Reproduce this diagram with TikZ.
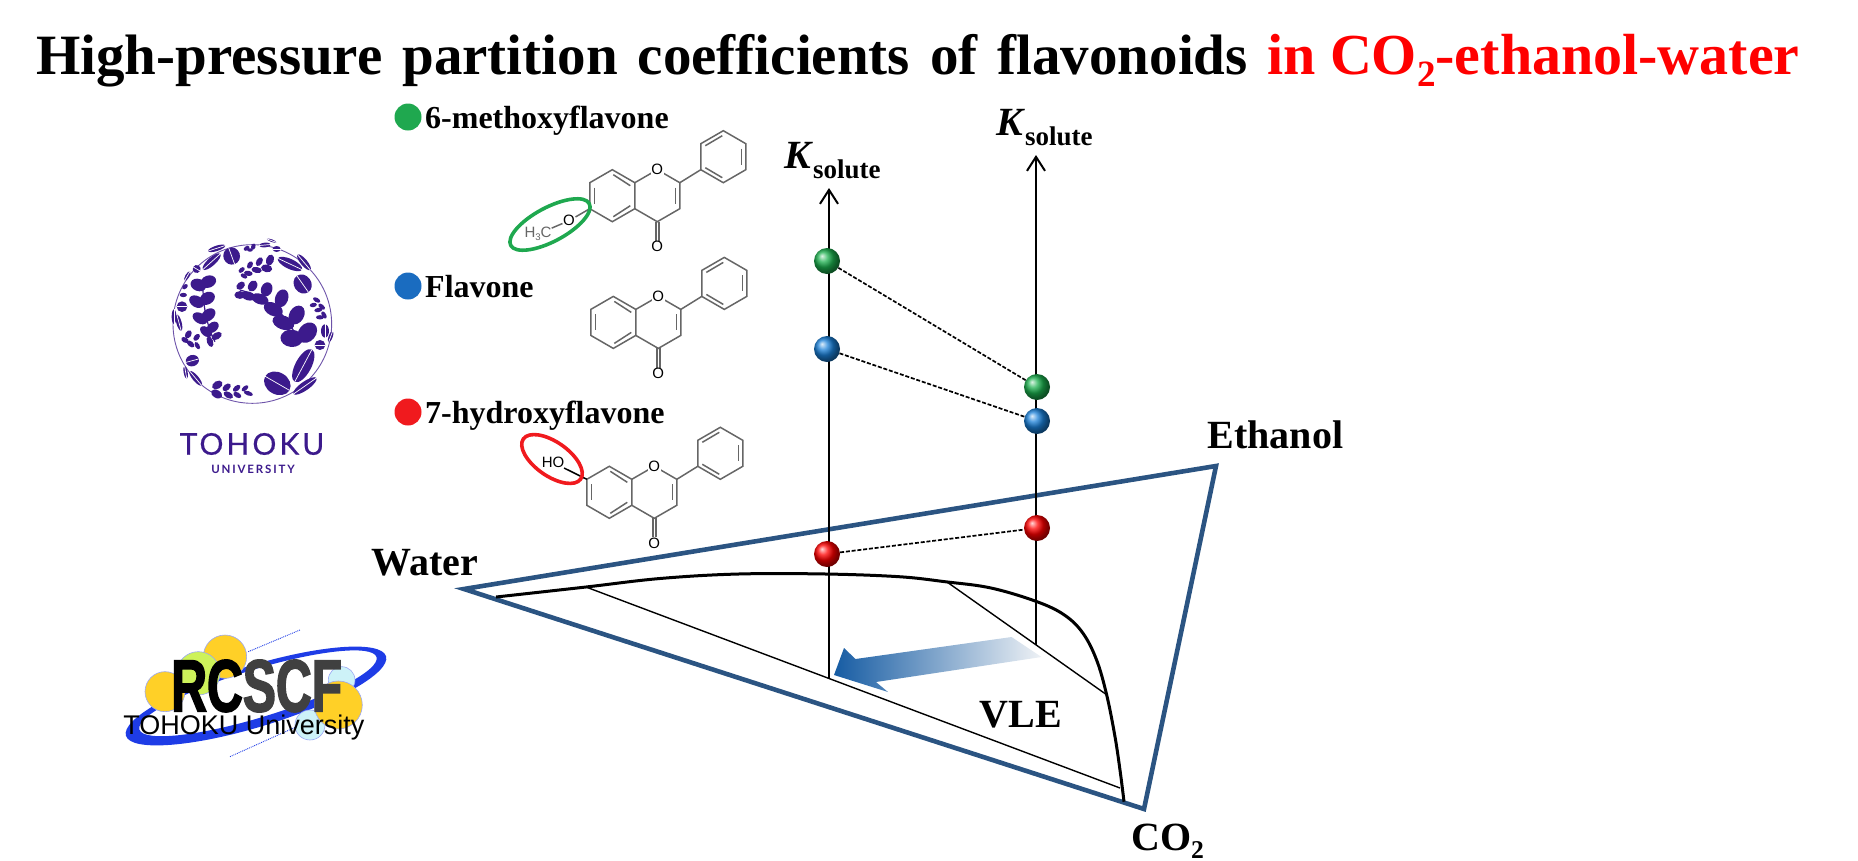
\documentclass[tikz,border=0pt]{standalone}
\usepackage{graphicx}
\usepackage{fontspec}
\usepackage{tikz}
\usetikzlibrary{arrows.meta}
\setmainfont{Liberation Serif}
\newfontfamily\molfont{Liberation Sans}
\newfontfamily\lofont[LetterSpace=16]{Lato}
\newfontfamily\lobig[LetterSpace=10,FakeBold=.4]{Lato}
\newfontfamily\rcfont[FakeStretch=0.67,FakeBold=2]{Liberation Sans}
\definecolor{triblue}{HTML}{2B5482}
\definecolor{tohoku}{HTML}{3C1A8C}
\definecolor{molgray}{HTML}{666666}
\definecolor{dotgreen}{HTML}{1FA84F}
\definecolor{dotblue}{HTML}{1A6CC0}
\definecolor{dotred}{HTML}{F01A1E}
\definecolor{ballgreen}{HTML}{1CB04E}
\definecolor{ballblue}{HTML}{1A80D8}
\definecolor{ringblue}{HTML}{1E3CE6}
\definecolor{rcgold}{HTML}{FFD027}
\definecolor{rclime}{HTML}{CDF25A}
\definecolor{rccyan}{HTML}{CDF2F8}
\tikzset{
	txt/.style={anchor=base west,inner sep=0pt,font=\bfseries\fontsize{40}{44}\selectfont},
	legend/.style={anchor=base west,inner sep=0pt,font=\bfseries\fontsize{32}{36}\selectfont},
	bond/.style={draw=molgray,line width=1.5pt},
	atom/.style={inner sep=.5pt,fill=white,text=#1,font=\molfont\fontsize{15}{15}\selectfont},
	dot/.style={circle,fill=#1,inner sep=0pt,minimum size=27pt},
	ball/.style={circle,shading=ball,ball color=#1,inner sep=0pt,minimum size=26pt},
	tie/.style={draw=black,line width=1.4pt},
	link/.style={draw=black,line width=1.7pt,dash pattern=on 4pt off 1.8pt},
	axis/.style={draw=black,line width=2pt,-{Straight Barb[length=14pt,width=18pt]}},
	rcdisc/.style={draw=ringblue!45,line width=.6pt,fill=#1},
}
\newcommand{\subtxt}[1]{\raisebox{-.22em}{\scalebox{.64}{#1}}}
\newcommand{\ksolute}[1]{\textit{K}\raisebox{-10pt}{\fontsize{27}{27}\selectfont solute}}
\newcommand{\flavone}[3]{
	\begin{scope}[shift={(#2,#3)}]
		\draw[bond] (0,-26) -- (22.5,-13) -- (22.5,13) -- (0,26) -- (-22.5,13) -- (-22.5,-13) -- cycle;
		\draw[bond] (22.5,-13) -- (45,-26) -- (67.5,-13) -- (67.5,13) -- (45,26) -- (22.5,13);
		\draw[bond] (111,-65) -- (133.5,-52) -- (133.5,-26) -- (111,-13) -- (88.5,-26) -- (88.5,-52) -- cycle;
		\draw[bond] (67.5,-13) -- (88.5,-26);
		\foreach \xa/\ya/\xb/\yb in {-18/-8/-18/8,1/-21/18/-10,1/21/18/10,63/-8/63/8,129/-47/129/-31,93/-50/110/-60,93/-28/110/-18}
			\draw[bond] (\xa,\ya) -- (\xb,\yb);
		\draw[bond] (43.5,26) -- (43.5,46);
		\draw[bond] (46.5,26) -- (46.5,46);
		\node[atom=black] (#1r) at (45,-26) {O};
		\node[atom=black] (#1k) at (45,51) {O};
	\end{scope}
}
\begin{document}
\begin{tikzpicture}[x=1pt,y=-1pt]
	\useasboundingbox (0,0) rectangle (1858,860);
	\node[anchor=base west,inner sep=0pt,font=\bfseries\fontsize{57}{60}\selectfont] (title) at (36,74) {\spaceskip=20pt High-pressure partition coefficients of flavonoids \textcolor{red}{\fontsize{58}{60}\selectfont\spaceskip=14pt in CO\subtxt{2}-ethanol-water}};
	\begin{scope}[shift={(100,200)},x=.3333pt,y=-.3333pt]
		\draw[tohoku!75,line width=.9pt] (457,372) circle [radius=238];
		\foreach \x/\y/\a/\b/\r in {532/550/42/33/-30,610/497/55/24/62,615/558/42/13/35,570/192/40/15/-25,612/187/30/10/-50,608/252/30/26/-55,395/168/26/25/-70,335/185/35/12/42,350/145/27/8/18,290/207/12/12/-30,262/228/16/6/60,246/320/16/16/0,222/350/22/7/90,237/368/25/8/-75,277/482/20/17/15,257/517/20/6/-80,287/535/28/9/-50,675/393/20/12/90,660/435/16/15/0,692/410/18/6/70,495/135/18/7/5,530/147/12/9/0,515/122/15/4/-20}
		{
			\fill[tohoku,shift={(\x,\y)},rotate=\r] (0,0) ellipse [x radius=\a,y radius=\b];
			\draw[white,line width=.7pt,shift={(\x,\y)},rotate=\r] (-\a,0) -- (\a,0);
		}
		\draw[tohoku,line width=1.2pt] (420,270) .. controls (500,290) and (570,350) .. (595,425);
		\draw[tohoku,line width=1.2pt] (310,240) .. controls (305,300) and (320,380) .. (345,425);
		\foreach \x/\y/\a/\b/\r in {622/398/28/20/50,575/415/28/20/-5,590/345/25/17/60,550/368/28/16/-20,545/295/23/15/70,520/328/25/15/-25,500/268/18/13/70,480/297/22/12/-20,458/258/15/10/60,445/288/18/10/-15,422/257/12/8/40,420/285/14/9/0,325/245/20/14/20,295/255/20/14/-20,322/295/20/14/30,290/305/20/13/-30,325/345/20/13/40,300/355/20/12/-30,338/382/17/11/40,318/395/17/10/-40,350/408/14/8/30,330/425/14/7/-70,510/180/14/9/70,500/205/14/9/-10,478/185/12/7/60,470/210/13/7/-10,450/195/10/6/60,445/220/11/6/-10,425/210/9/5/40,432/228/9/5/-30,352/555/14/9/30,350/582/15/9/-30,380/562/12/7/40,385/585/13/7/-30,410/565/11/6/40,412/585/11/6/-30,435/565/10/5/40,445/580/12/5/-20,650/300/10/5/-30,640/315/9/5/10,665/320/10/5/-40,655/330/10/5/10,672/345/10/5/-60,660/352/10/5/0,265/403/11/7/60,255/420/10/6/-30,290/412/10/6/50,272/432/11/6/-40,292/437/10/5/-60,255/260/8/5/40,250/285/9/5/0,440/145/8/5/30,460/140/8/5/70,450/150/7/4/0}
			\fill[tohoku,shift={(\x,\y)},rotate=\r] (0,0) ellipse [x radius=1.2*\a,y radius=1.3*\b];
	\end{scope}
	\node[inner sep=0pt,text=tohoku,font=\lobig\fontsize{30}{30}\selectfont] (tohokutxt) at (252,444) {TOHOKU};
	\node[inner sep=0pt,text=tohoku,font=\lofont\bfseries\fontsize{11.5}{12}\selectfont] (univtxt) at (253,469) {UNIVERSITY};
	\begin{scope}[shift={(100,610)},x=.3333pt,y=-.3333pt]
		\fill[ringblue,even odd rule,rotate around={17:(468,258)}] (468,258) ellipse [x radius=408,y radius=92] (476,252) ellipse [x radius=372,y radius=72];
		\draw[rcdisc=rcgold] (195,245) circle [radius=60];
		\draw[rcdisc=rcgold] (375,140) circle [radius=65];
		\draw[rcdisc=rclime] (295,190) circle [radius=65];
		\draw[rcdisc=rccyan] (725,210) circle [radius=40];
		\draw[rcdisc=rccyan] (630,345) circle [radius=45];
		\draw[rcdisc=rcgold] (715,285) circle [radius=72];
		\draw[ringblue,line width=.9pt,densely dotted] (445,125) -- (600,60);
		\draw[ringblue,line width=.9pt,densely dotted] (390,440) -- (590,350);
		\node[inner sep=0pt,font=\rcfont\bfseries\fontsize{74}{74}\selectfont] (rcscf) at (470,228) {RC\textcolor{black!75}{SCF}};
		\node[inner sep=0pt,font=\molfont\fontsize{27}{27}\selectfont] (rcuniv) at (432,352) {TOHOKU University};
	\end{scope}
	\node[dot=dotgreen] (legg) at (408,117) {};
	\node[dot=dotblue] (legb) at (408,286) {};
	\node[dot=dotred] (legr) at (408,412) {};
	\node[legend] (namea) at (425,128) {6-methoxyflavone};
	\node[legend] (nameb) at (425,297) {Flavone};
	\node[legend] (namec) at (425,423) {7-hydroxyflavone};
	\flavone{m}{612.3}{195.7}
	\flavone{f}{613.3}{322.4}
	\flavone{h}{609.3}{492.3}
	\node[atom=black] (mo) at (569,220.7) {O};
	\node[atom=molgray,inner sep=0pt,fill=none] (mc) at (538,234) {H\subtxt{3}C};
	\node[atom=black,inner sep=0pt,fill=none] (hq) at (553,462.5) {HO};
	\coordinate (ma) at (589.8,208.7);
	\coordinate (ha) at (586.8,479.3);
	\draw[bond] (mo) -- (ma);
	\draw[bond] (mc) -- (mo);
	\draw[bond,draw=black] (hq) -- (ha);
	\draw[draw=dotgreen,line width=3.6pt,rotate around={28:(550,224.5)}] (550,224.5) ellipse [x radius=44.5,y radius=17];
	\draw[draw=dotred,line width=3.6pt,rotate around={-35:(552,459)}] (552,459) ellipse [x radius=35,y radius=17];
	\coordinate (water) at (464,589);
	\coordinate (ethanol) at (1216,466);
	\coordinate (coo) at (1144,809);
	\draw[draw=triblue,line width=4.6pt,miter limit=10] (water) -- (ethanol) -- (coo) -- cycle;
	\draw[line width=3pt] plot[smooth,tension=.6] coordinates {(496,597) (586,587) (660,578.5) (738.4,574) (825.7,574) (899,576.7) (945,581.7) (991,588) (1037,601.7) (1064.4,615) (1082.8,633) (1096.6,660) (1106.7,695) (1115,736.7) (1120.4,773) (1124,801.7)};
	\coordinate (tiea) at (586,587);
	\coordinate (tieb) at (1120,788);
	\coordinate (tiec) at (947,582);
	\coordinate (tied) at (1107,695);
	\draw[tie] (tiea) -- (tieb);
	\draw[tie] (tiec) -- (tied);
	\coordinate (axa) at (829,678);
	\coordinate (axb) at (829,188);
	\coordinate (axc) at (1036,645);
	\coordinate (axd) at (1036,155);
	\draw[axis] (axa) -- (axb);
	\draw[axis] (axc) -- (axd);
	\shade[left color=dotblue!85!black,right color=triblue!8] (834,675) -- (844,648) -- (855.5,659) -- (1011.6,637) -- (1041.5,657) -- (876,682) -- (888,692) -- cycle;
	\node[ball=ballgreen] (ga) at (827,261) {};
	\node[ball=ballblue] (ba) at (827,349) {};
	\node[ball=red] (ra) at (827,554) {};
	\node[ball=ballgreen] (gb) at (1037,387) {};
	\node[ball=ballblue] (bb) at (1037,421) {};
	\node[ball=red] (rb) at (1037,528) {};
	\draw[link] (ga) -- (gb);
	\draw[link] (ba) -- (bb);
	\draw[link] (ra) -- (rb);
	\node[txt] (kleft) at (784,168) {\ksolute{}};
	\node[txt] (kright) at (996,135) {\ksolute{}};
	\node[txt] (lwater) at (371,575) {Water};
	\node[txt] (lethanol) at (1207.5,448) {Ethanol};
	\node[txt] (lvle) at (979.5,727) {VLE};
	\node[txt] (lco) at (1131,850) {CO\subtxt{2}};
\end{tikzpicture}
\end{document}
